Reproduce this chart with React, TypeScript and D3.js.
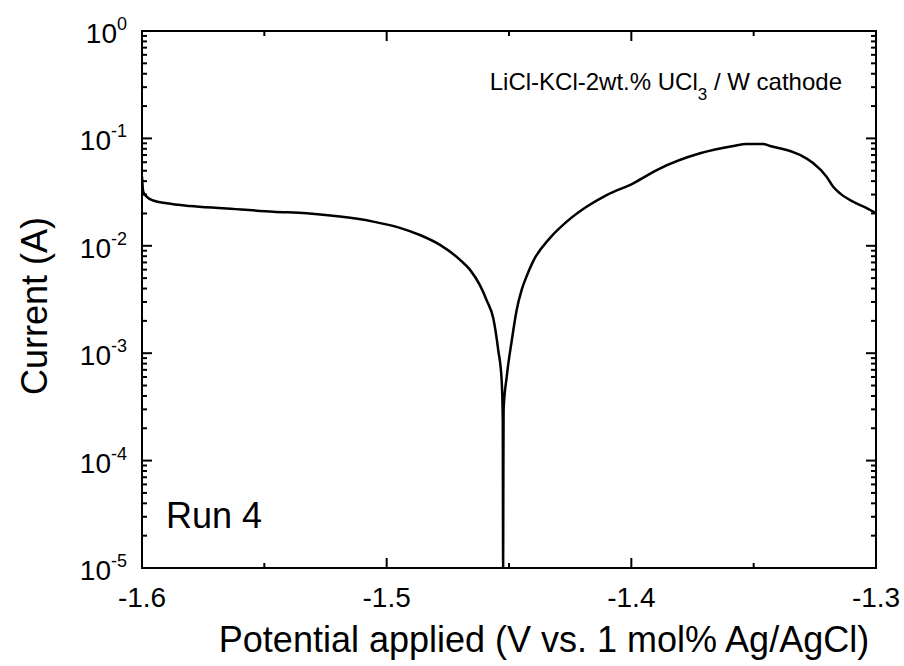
import * as d3 from "d3"

// potential (V vs. 1 mol% Ag/AgCl) and current (A)
const potentialV = [
  -1.6, -1.5995, -1.5981, -1.5954, -1.5899, -1.5804, -1.5668, -1.5463, -1.5327,
  -1.5191, -1.5055, -1.4946, -1.4864, -1.4782, -1.47, -1.466, -1.4619, -1.4591,
  -1.4564, -1.4544, -1.453, -1.45255, -1.4524, -1.45232, -1.4522, -1.45095,
  -1.4489, -1.4469, -1.4448, -1.4428, -1.4401, -1.4333, -1.4264, -1.4183,
  -1.4101, -1.3992, -1.389, -1.3719, -1.3583, -1.3529, -1.3461, -1.3433,
  -1.3365, -1.3311, -1.3256, -1.3202, -1.3175, -1.3147, -1.3093, -1.3038, -1.3,
]
const currentA = [
  0.044, 0.0319, 0.0287, 0.0264, 0.0249, 0.0235, 0.0224, 0.0208, 0.0201,
  0.0187, 0.0168, 0.0147, 0.0126, 0.0102, 0.0074, 0.006, 0.0043, 0.0031,
  0.0021, 0.00107, 0.00056, 0.00024, 0.00001, 0.00005, 0.0003, 0.0006,
  0.0013, 0.0025, 0.0039, 0.0052, 0.0072, 0.0118, 0.0168, 0.0231,
  0.0297, 0.0382, 0.0516, 0.0727, 0.085, 0.0887, 0.0887, 0.085,
  0.078, 0.0701, 0.0586, 0.044, 0.0355, 0.0308, 0.0257, 0.0224, 0.0201,
]
const xTickValues = [-1.6, -1.5, -1.4, -1.3]
const xTickLabels = ["-1.6", "-1.5", "-1.4", "-1.3"]
const yExponents = [0, -1, -2, -3, -4, -5]

const W = 904
const H = 666
const margin = { top: 31, right: 28, bottom: 98, left: 142 }
const FONT = "Arial, 'Liberation Sans', sans-serif"

export default function App() {
  const x = d3.scaleLinear().domain([-1.6, -1.3]).range([margin.left, W - margin.right])
  const y = d3.scaleLog().domain([1e-5, 1]).range([H - margin.bottom, margin.top])

  const points = potentialV.map((v, i) => [v, currentA[i]] as [number, number])
  const line = d3
    .line<[number, number]>()
    .x((d) => x(d[0]))
    .y((d) => y(d[1]))
    .curve(d3.curveMonotoneX)

  const x0 = margin.left
  const x1 = W - margin.right
  const y0 = H - margin.bottom
  const y1 = margin.top

  const xMinor = d3.range(-1.55, -1.3, 0.1)
  const yMinor = y.ticks().filter((t) => Math.abs(Math.log10(t) - Math.round(Math.log10(t))) > 1e-6)
  const major = 10
  const minor = 5

  return (
    <div style={{ position: "fixed", left: 0, top: 0 }}>
      <svg width={W} height={H} style={{ display: "block", background: "#fff" }}>
        <defs>
          <clipPath id="plot-clip">
            <rect x={x0} y={y1} width={x1 - x0} height={y0 - y1} />
          </clipPath>
        </defs>

        {/* ticks, all inward, mirrored on opposite sides */}
        <g stroke="#000" strokeWidth={2}>
          {xTickValues.map((t) => (
            <g key={"xm" + t}>
              <line x1={x(t)} x2={x(t)} y1={y0} y2={y0 - major} />
              <line x1={x(t)} x2={x(t)} y1={y1} y2={y1 + major} />
            </g>
          ))}
          {xMinor.map((t) => (
            <g key={"xn" + t}>
              <line x1={x(t)} x2={x(t)} y1={y0} y2={y0 - minor} />
              <line x1={x(t)} x2={x(t)} y1={y1} y2={y1 + minor} />
            </g>
          ))}
          {yExponents.map((e) => (
            <g key={"ym" + e}>
              <line x1={x0} x2={x0 + major} y1={y(10 ** e)} y2={y(10 ** e)} />
              <line x1={x1} x2={x1 - major} y1={y(10 ** e)} y2={y(10 ** e)} />
            </g>
          ))}
          {yMinor.map((t) => (
            <g key={"yn" + t}>
              <line x1={x0} x2={x0 + minor} y1={y(t)} y2={y(t)} />
              <line x1={x1} x2={x1 - minor} y1={y(t)} y2={y(t)} />
            </g>
          ))}
        </g>

        <path
          d={line(points) || ""}
          fill="none"
          stroke="#000"
          strokeWidth={2.5}
          strokeLinejoin="round"
          clipPath="url(#plot-clip)"
        />

        <rect x={x0} y={y1} width={x1 - x0} height={y0 - y1} fill="none" stroke="#000" strokeWidth={2} />

        {/* tick labels */}
        <g fontFamily={FONT} fill="#000">
          {xTickValues.map((t, i) => (
            <text key={"xl" + t} x={x(t)} y={y0 + 39} fontSize={28} textAnchor="middle">
              {xTickLabels[i]}
            </text>
          ))}
          {yExponents.map((e) => (
            <text key={"yl" + e} x={127} y={y(10 ** e) + 12} fontSize={28} textAnchor="end">
              10
              <tspan fontSize={18} dy={-13}>
                {e}
              </tspan>
            </text>
          ))}
        </g>

        {/* axis titles */}
        <text x={544} y={652} fontFamily={FONT} fontSize={36} textAnchor="middle">
          Potential applied (V vs. 1 mol% Ag/AgCl)
        </text>
        <text
          transform={`translate(47,306) rotate(-90)`}
          fontFamily={FONT}
          fontSize={36}
          textAnchor="middle"
        >
          Current (A)
        </text>

        {/* annotations */}
        <text x={842} y={90} fontFamily={FONT} fontSize={24} textAnchor="end">
          LiCl-KCl-2wt.% UCl
          <tspan fontSize={17} dy={10}>3</tspan>
          <tspan dy={-10}> / W cathode</tspan>
        </text>
        <text x={166} y={528} fontFamily={FONT} fontSize={36}>
          Run 4
        </text>
      </svg>
    </div>
  )
}
